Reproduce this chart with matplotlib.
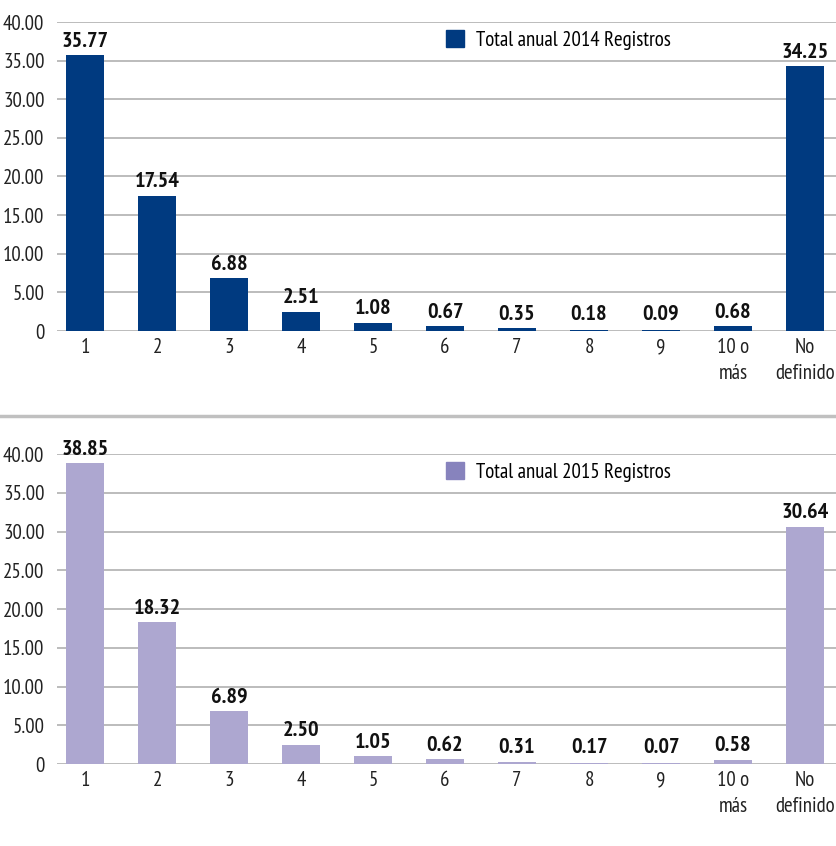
import matplotlib
matplotlib.use("Agg")
import matplotlib.pyplot as plt
from matplotlib.patches import Patch
import numpy as np

plt.rcParams['font.family'] = ['PT Sans Narrow', 'Roboto Condensed', 'DejaVu Sans']

categories = ["1", "2", "3", "4", "5", "6", "7", "8", "9", "10 o\nmás", "No\ndefinido"]
values_2014 = [35.77, 17.54, 6.88, 2.51, 1.08, 0.67, 0.35, 0.18, 0.09, 0.68, 34.25]
values_2015 = [38.85, 18.32, 6.89, 2.50, 1.05, 0.62, 0.31, 0.17, 0.07, 0.58, 30.64]
yticks = [0, 5, 10, 15, 20, 25, 30, 35, 40]
ytick_labels = ["0", "5.00", "10.00", "15.00", "20.00", "25.00", "30.00", "35.00", "40.00"]
legend_2014 = "Total anual 2014 Registros"
legend_2015 = "Total anual 2015 Registros"

W, H = 836, 846
fig = plt.figure(figsize=(W / 100, H / 100), dpi=100)

def make_axes(top_px, bottom_px):
    left_px, right_px = 57, 836
    return fig.add_axes([left_px / W, 1 - bottom_px / H,
                         (right_px - left_px) / W, (bottom_px - top_px) / H])

def draw(ax, vals, color, legend_color, label, leg_y):
    x = np.arange(len(categories))
    ax.bar(x, vals, width=0.53, color=color, zorder=3)
    ax.set_ylim(0, 40)
    ax.set_xlim(-0.39, 10.43)
    ax.set_yticks(yticks)
    ax.set_yticklabels(ytick_labels, fontsize=15, color="#222222")
    ax.set_xticks(x)
    ax.set_xticklabels(categories, fontsize=15, color="#222222", linespacing=1.5)
    ax.tick_params(axis='y', length=0, pad=9)
    ax.tick_params(axis='x', length=0, pad=5)
    ax.grid(axis='y', color="#b0b0b0", linewidth=1.2, zorder=0)
    for s in ax.spines.values():
        s.set_visible(False)
    for xi, v in zip(x, vals):
        ax.annotate(f"{v:.2f}", (xi, max(v, 0.4)), xytext=(0, 3), textcoords="offset points",
                    ha="center", va="bottom", fontsize=16, fontweight="bold", color="#111111",
                    zorder=4)
    ax.legend(handles=[Patch(color=legend_color, label=label)], loc="upper left",
              bbox_to_anchor=(0.499, leg_y), frameon=False, fontsize=15,
              borderpad=0, borderaxespad=0,
              handlelength=0.9, handleheight=0.9, handletextpad=0.55)

ax1 = make_axes(22, 331)
draw(ax1, values_2014, "#003a80", "#003a80", legend_2014, 0.975)
ax2 = make_axes(454, 764)
draw(ax2, values_2015, "#ada7d0", "#8783bd", legend_2015, 0.975)

fig.add_artist(plt.Line2D([0, 1], [1 - 416 / H, 1 - 416 / H], color="#c0c0c0", linewidth=2.5))

fig.savefig("out.png", dpi=100, facecolor="white")
